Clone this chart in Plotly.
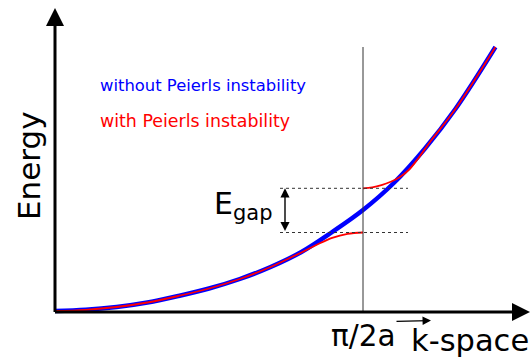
import plotly.graph_objects as go

# Free-electron-like band E(k) (k in units of pi/2a)
k_free = [0.0, 0.1, 0.2, 0.3, 0.4, 0.5, 0.6, 0.7, 0.8, 0.9, 1.0, 1.1, 1.2, 1.3, 1.43]
E_free = [0.0, 0.012, 0.04, 0.085, 0.15, 0.225, 0.32, 0.44, 0.59, 0.79, 1.01, 1.28, 1.62, 2.02, 2.64]

# Band with Peierls distortion: lower branch up to the zone edge
k_lower = [0.0, 0.1, 0.2, 0.3, 0.4, 0.5, 0.6, 0.7, 0.75, 0.8, 0.85, 0.9, 0.95, 1.0]
E_lower = [0.0, 0.012, 0.04, 0.085, 0.15, 0.225, 0.32, 0.44, 0.512, 0.585, 0.662, 0.732, 0.772, 0.785]

# Upper branch from the zone edge outwards
k_upper = [1.0, 1.03, 1.06, 1.09, 1.12, 1.15, 1.18, 1.22, 1.3, 1.43]
E_upper = [1.227, 1.236, 1.258, 1.292, 1.34, 1.415, 1.53, 1.70, 2.02, 2.64]

k_edge = 1.0

W, H = 531, 361
X0, PX_K = 55, 308      # pixel of k=0, pixels per unit k
Y0, PX_E = 311, 100     # pixel of E=0, pixels per unit E


def kx(px):
    return (px - X0) / PX_K


def ey(py):
    return (Y0 - py) / PX_E


fig = go.Figure()
fig.add_trace(go.Scatter(x=k_free, y=E_free, mode="lines",
                         line=dict(color="#0000ff", width=4.5, shape="spline"),
                         hoverinfo="skip"))
fig.add_trace(go.Scatter(x=k_lower, y=E_lower, mode="lines",
                         line=dict(color="#ff0000", width=1.8, shape="spline"),
                         hoverinfo="skip"))
fig.add_trace(go.Scatter(x=k_upper, y=E_upper, mode="lines",
                         line=dict(color="#ff0000", width=1.8, shape="spline"),
                         hoverinfo="skip"))

shapes = []
# zone-edge marker
shapes.append(dict(type="line", x0=k_edge, x1=k_edge, y0=ey(312), y1=max(E_free),
                   line=dict(color="#333333", width=1)))
# gap edges
for e in (E_lower[-1], E_upper[0]):
    shapes.append(dict(type="line", x0=kx(280), x1=kx(408), y0=e, y1=e,
                       line=dict(color="#333333", width=1, dash="3px,3px")))

ann = []
# axes with arrow heads
ann.append(dict(x=kx(55), y=ey(8), ax=kx(55), ay=ey(313.5), xref="x", yref="y",
                axref="x", ayref="y", text="", showarrow=True, arrowhead=2,
                arrowsize=1.2, arrowwidth=3, arrowcolor="black"))
ann.append(dict(x=kx(530), y=ey(312), ax=kx(53.5), ay=ey(312), xref="x", yref="y",
                axref="x", ayref="y", text="", showarrow=True, arrowhead=2,
                arrowsize=1.2, arrowwidth=3, arrowcolor="black"))
# gap arrow
ann.append(dict(x=kx(285), y=E_upper[0], ax=kx(285), ay=E_lower[-1], xref="x", yref="y",
                axref="x", ayref="y", text="", showarrow=True, arrowhead=2,
                arrowside="end+start", arrowsize=1.3, arrowwidth=1.4, arrowcolor="black"))
# vector arrow over k
ann.append(dict(x=kx(431), y=ey(320.5), ax=kx(395), ay=ey(321.5), xref="x", yref="y",
                axref="x", ayref="y", text="", showarrow=True, arrowhead=2,
                arrowsize=1.3, arrowwidth=1.3, arrowcolor="black"))

font = "DejaVu Sans"


def label(text, px, py, size, color="black", xanchor="center", angle=0):
    ann.append(dict(x=px / W, y=1 - py / H, xref="paper", yref="paper", text=text,
                    showarrow=False, xanchor=xanchor, yanchor="middle", textangle=angle,
                    font=dict(family=font, size=size, color=color)))


label("Energy", 29, 166, 31, angle=-90)
label("π/2a", 363, 336, 29.5)
label("k-space", 470, 340, 30.5)
label("without Peierls instability", 98, 86, 16.4, color="#0000ff", xanchor="left")
label("with Peierls instability", 98, 121, 17.4, color="#ff0000", xanchor="left")
label("E<sub>gap</sub>", 212, 205, 30, xanchor="left")

fig.update_layout(
    width=W, height=H, margin=dict(l=0, r=0, t=0, b=0),
    paper_bgcolor="white", plot_bgcolor="white", showlegend=False,
    xaxis=dict(range=[kx(0), kx(W)], visible=False, fixedrange=True),
    yaxis=dict(range=[ey(H), ey(0)], visible=False, fixedrange=True),
    shapes=shapes, annotations=ann,
)

fig.write_html("out.html")
